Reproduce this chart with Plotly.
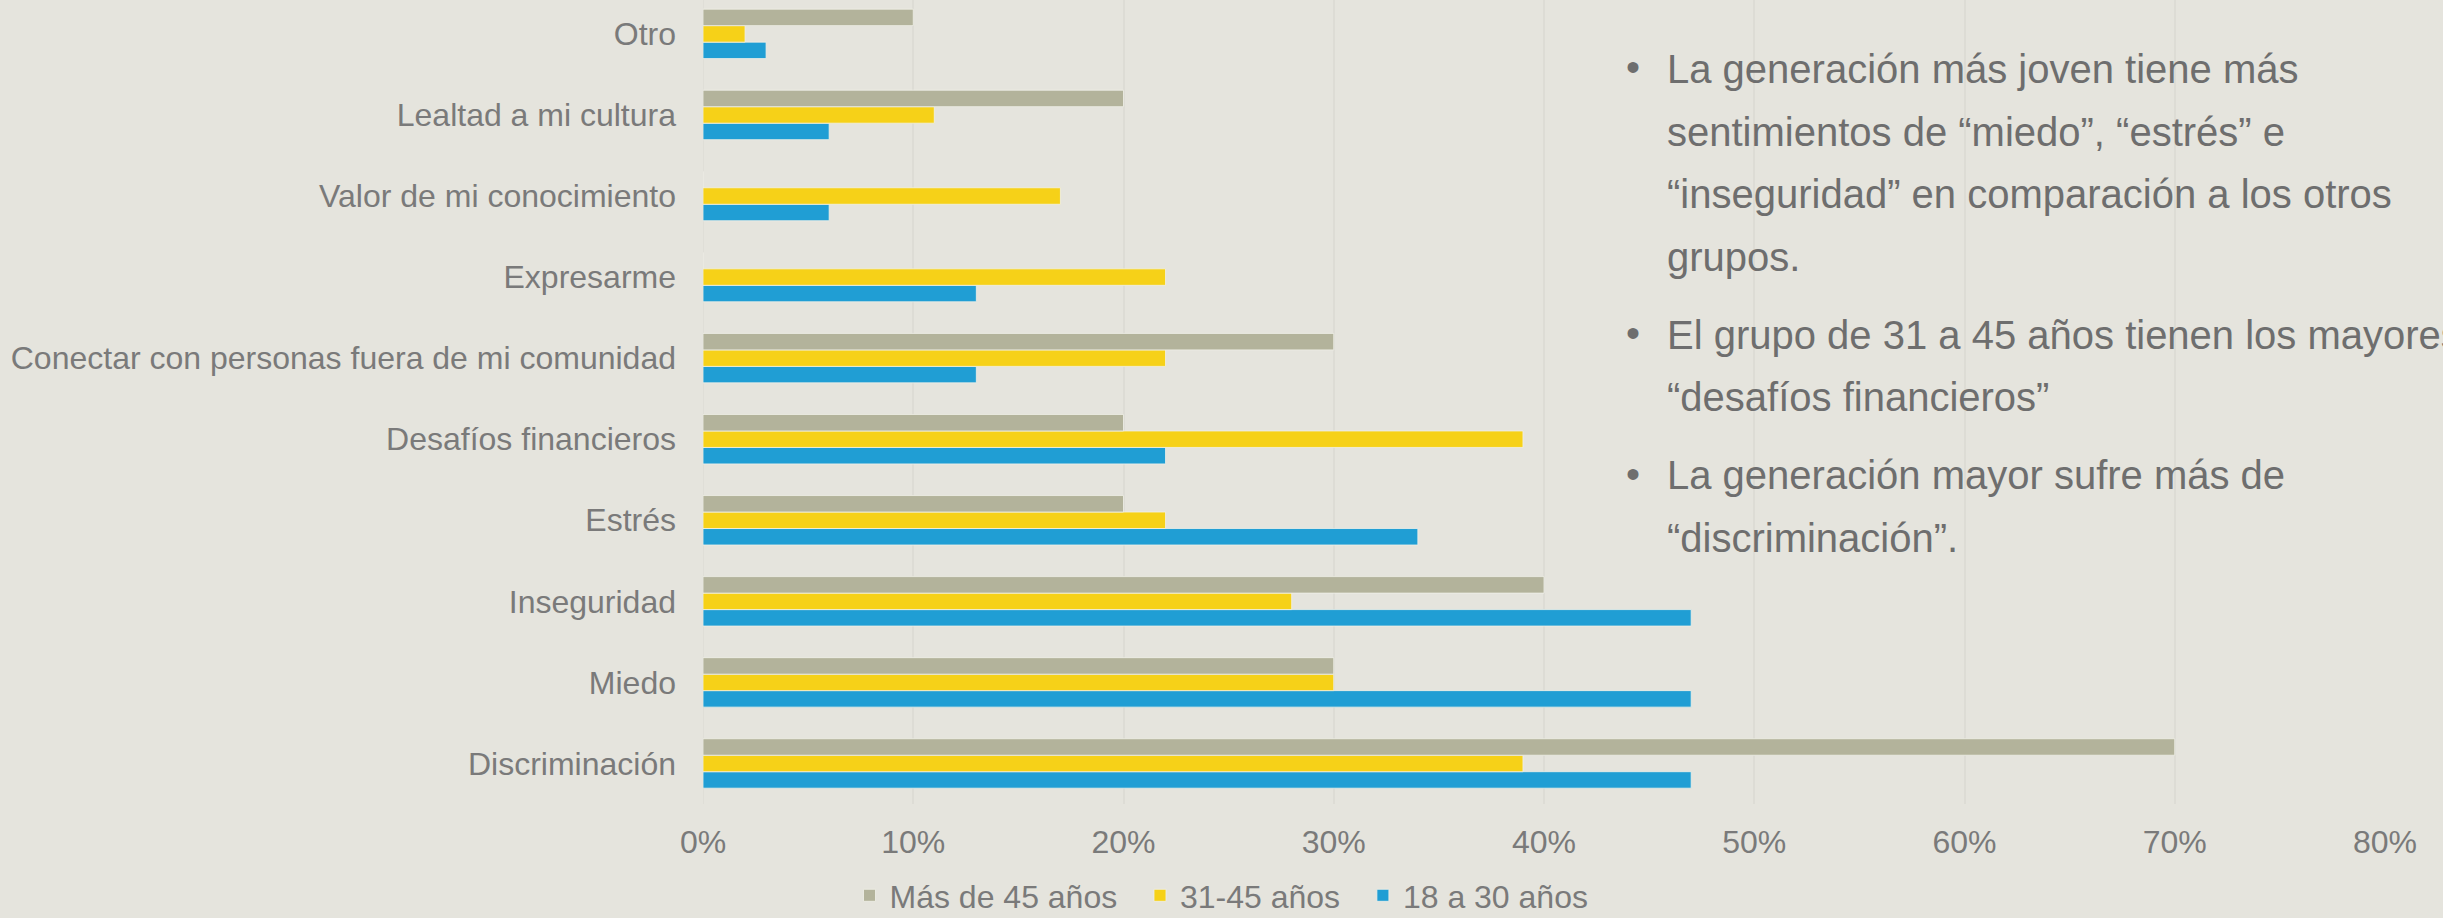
import plotly.graph_objects as go

categories = ["Discriminación", "Miedo", "Inseguridad", "Estrés", "Desafíos financieros",
              "Conectar con personas fuera de mi comunidad", "Expresarme",
              "Valor de mi conocimiento", "Lealtad a mi cultura", "Otro"]
series_names = ["18 a 30 años", "31-45 años", "Más de 45 años"]
vals_18_30 = [47, 47, 47, 34, 22, 13, 13, 6, 6, 3]
vals_31_45 = [39, 30, 28, 22, 39, 22, 22, 17, 11, 2]
vals_45_plus = [70, 30, 40, 20, 20, 30, 0, 0, 20, 10]
colors = ["#209ed4", "#f6d118", "#b3b39b"]
x_ticks = [0, 10, 20, 30, 40, 50, 60, 70, 80]
x_tick_labels = ["0%", "10%", "20%", "30%", "40%", "50%", "60%", "70%", "80%"]

bullets = [
    ["La generación más joven tiene más",
     "sentimientos de “miedo”, “estrés” e",
     "“inseguridad” en comparación a los otros",
     "grupos."],
    ["El grupo de 31 a 45 años tienen los mayores",
     "“desafíos financieros”"],
    ["La generación mayor sufre más de",
     "“discriminación”."],
]

W, H = 2443, 918
ML, MR, MT, MB = 703, 58, 0, 114
PH = H - MT - MB
PW = W - ML - MR
BG = "#e5e4dd"
FONT = "Liberation Sans, Arial, sans-serif"

# legend spacing padding (non-breaking spaces after all but the last legend entry)
legend_pad = ["", "\u00a0\u00a0", "\u00a0\u00a0"]

fig = go.Figure()
for name, vals, col, pad in zip(series_names, [vals_18_30, vals_31_45, vals_45_plus], colors, legend_pad):
    fig.add_trace(go.Bar(
        y=categories, x=vals, name=name + pad, orientation="h",
        marker=dict(color=col, line=dict(color="rgba(240,240,232,0.8)", width=1)),
        hoverinfo="skip",
    ))

def px_x(p):
    return (p - ML) / PW

def px_y(p):
    return 1 - (p - MT) / PH

line_y = [[69, 131.6, 194, 256.6], [334.5, 397], [475.5, 538]]
ann = []
for para, ys in zip(bullets, line_y):
    ann.append(dict(x=px_x(1633), y=px_y(ys[0] - 2), xref="paper", yref="paper",
                    text="•", showarrow=False, xanchor="center", yanchor="middle",
                    font=dict(family=FONT, size=40, color="#6e6e6e")))
    for t, yy in zip(para, ys):
        ann.append(dict(x=px_x(1665), y=px_y(yy), xref="paper", yref="paper",
                        text=t, showarrow=False, xanchor="left", yanchor="middle",
                        font=dict(family=FONT, size=40, color="#6e6e6e")))

fig.update_layout(
    width=W, height=H,
    margin=dict(l=ML, r=MR, t=MT, b=MB, pad=0, autoexpand=False),
    paper_bgcolor=BG, plot_bgcolor=BG,
    barmode="group", bargap=0.39, bargroupgap=0,
    font=dict(family=FONT, size=32, color="#7a7a7a"),
    xaxis=dict(range=[0, 80], tickvals=x_ticks, ticktext=x_tick_labels,
               showgrid=True, gridcolor="#dddcd5", gridwidth=1.5,
               zeroline=False, showline=False, ticks="",
               tickfont=dict(size=32, color="#7a7a7a"), ticklabelstandoff=16,
               fixedrange=True, automargin=False),
    yaxis=dict(range=[-0.5, 9.418], showgrid=False, zeroline=False,
               showline=False, ticks="", tickfont=dict(size=32, color="#7a7a7a"),
               ticklabelstandoff=26, fixedrange=True, automargin=False),
    legend=dict(orientation="h", xref="container", yref="container",
                x=0.5, xanchor="center", y=0.0245, yanchor="middle",
                traceorder="reversed", font=dict(size=32, color="#7a7a7a"),
                bgcolor="rgba(0,0,0,0)", itemwidth=30),
    annotations=ann,
    showlegend=True,
)

fig.add_shape(type="line", xref="x", yref="paper", x0=0, x1=0, y0=0, y1=1,
              line=dict(color="#dddcd5", width=1.5), layer="below")

fig.write_html("out.html", config={"displayModeBar": False},
               post_script="document.body.style.margin='0';document.body.style.background='%s';" % BG)
